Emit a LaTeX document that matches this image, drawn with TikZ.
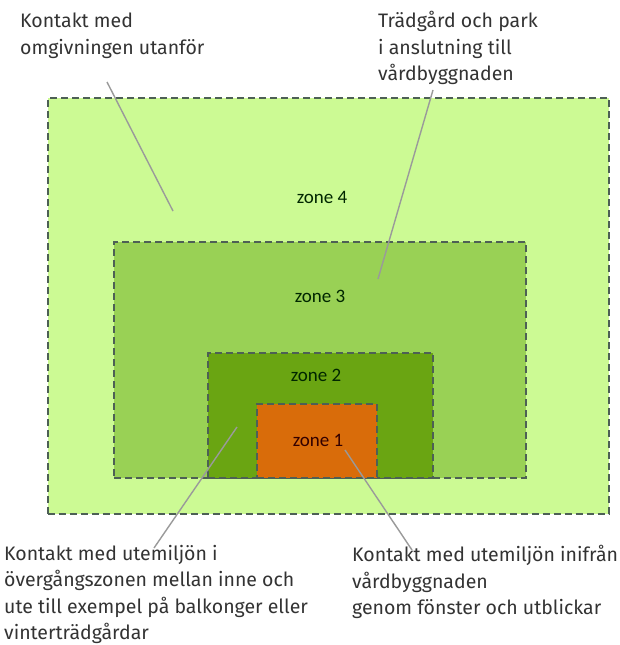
\documentclass[tikz,border=0pt]{standalone}
\usepackage{fontspec}
\setmainfont{Fira Sans}
\newfontfamily\zonefont{Carlito}
\definecolor{zfour}{HTML}{CCFA94}
\definecolor{zthree}{HTML}{99D155}
\definecolor{ztwo}{HTML}{6AA512}
\definecolor{zone}{HTML}{D96C0A}
\definecolor{zborder}{HTML}{4D6055}
\definecolor{leader}{HTML}{9A9A9A}
\definecolor{captxt}{HTML}{333333}
\tikzset{
  zonebox/.style={draw=zborder, line width=2.2pt, dash pattern=on 7pt off 4pt, inner sep=0pt, anchor=north west},
  zonelabel/.style={font=\zonefont\fontsize{19}{22}\selectfont, text=#1, inner sep=0pt},
  caption/.style={font=\fontsize{19.5}{26.5}\selectfont, text=captxt, align=left, inner sep=0pt, anchor=north west},
  leaderline/.style={draw=leader, line width=1.4pt}
}
\begin{document}
\begin{tikzpicture}[x=1pt,y=-1pt]
\useasboundingbox[fill=white] (0,0) rectangle (620,645);
% zones
\node[zonebox, fill=zfour, minimum width=561pt, minimum height=416pt] (z4) at (46.5,97) {};
\node[zonebox, fill=zthree, minimum width=412pt, minimum height=236pt] (z3) at (113,241) {};
\node[zonebox, fill=ztwo, minimum width=225pt, minimum height=125pt] (z2) at (207,352) {};
\node[zonebox, fill=zone, minimum width=120pt, minimum height=74pt] (z1) at (256,403) {};
% zone labels
\node[zonelabel=black!85!green] (l4) at (322,197) {zone 4};
\node[zonelabel=black!85!green] (l3) at (320,296) {zone 3};
\node[zonelabel=black!85!green] (l2) at (316,375) {zone 2};
\node[zonelabel=black!80!red] (l1) at (318,440) {zone 1};
% captions
\node[caption] (t1) at (20,13) {Kontakt med\\omgivningen utanför};
\node[caption] (t2) at (378,11) {Trädgård och park\\i anslutning till\\vårdbyggnaden};
\node[caption] (t3) at (4,545) {Kontakt med utemiljön i\\övergångszonen mellan inne och\\ute till exempel på balkonger eller\\vinterträdgårdar};
\node[caption] (t4) at (352,545) {Kontakt med utemiljön inifrån\\vårdbyggnaden\\genom fönster och utblickar};
% leader anchor points
\coordinate (a1) at (107,82);
\coordinate (b1) at (173,211);
\coordinate (a2) at (433,90);
\coordinate (b2) at (378,279);
\coordinate (a3) at (154,548);
\coordinate (b3) at (237,427);
\coordinate (a4) at (412,550);
\coordinate (b4) at (345,450);
\draw[leaderline] (a1) -- (b1);
\draw[leaderline] (a2) -- (b2);
\draw[leaderline] (a3) -- (b3);
\draw[leaderline] (a4) -- (b4);
\end{tikzpicture}
\end{document}
